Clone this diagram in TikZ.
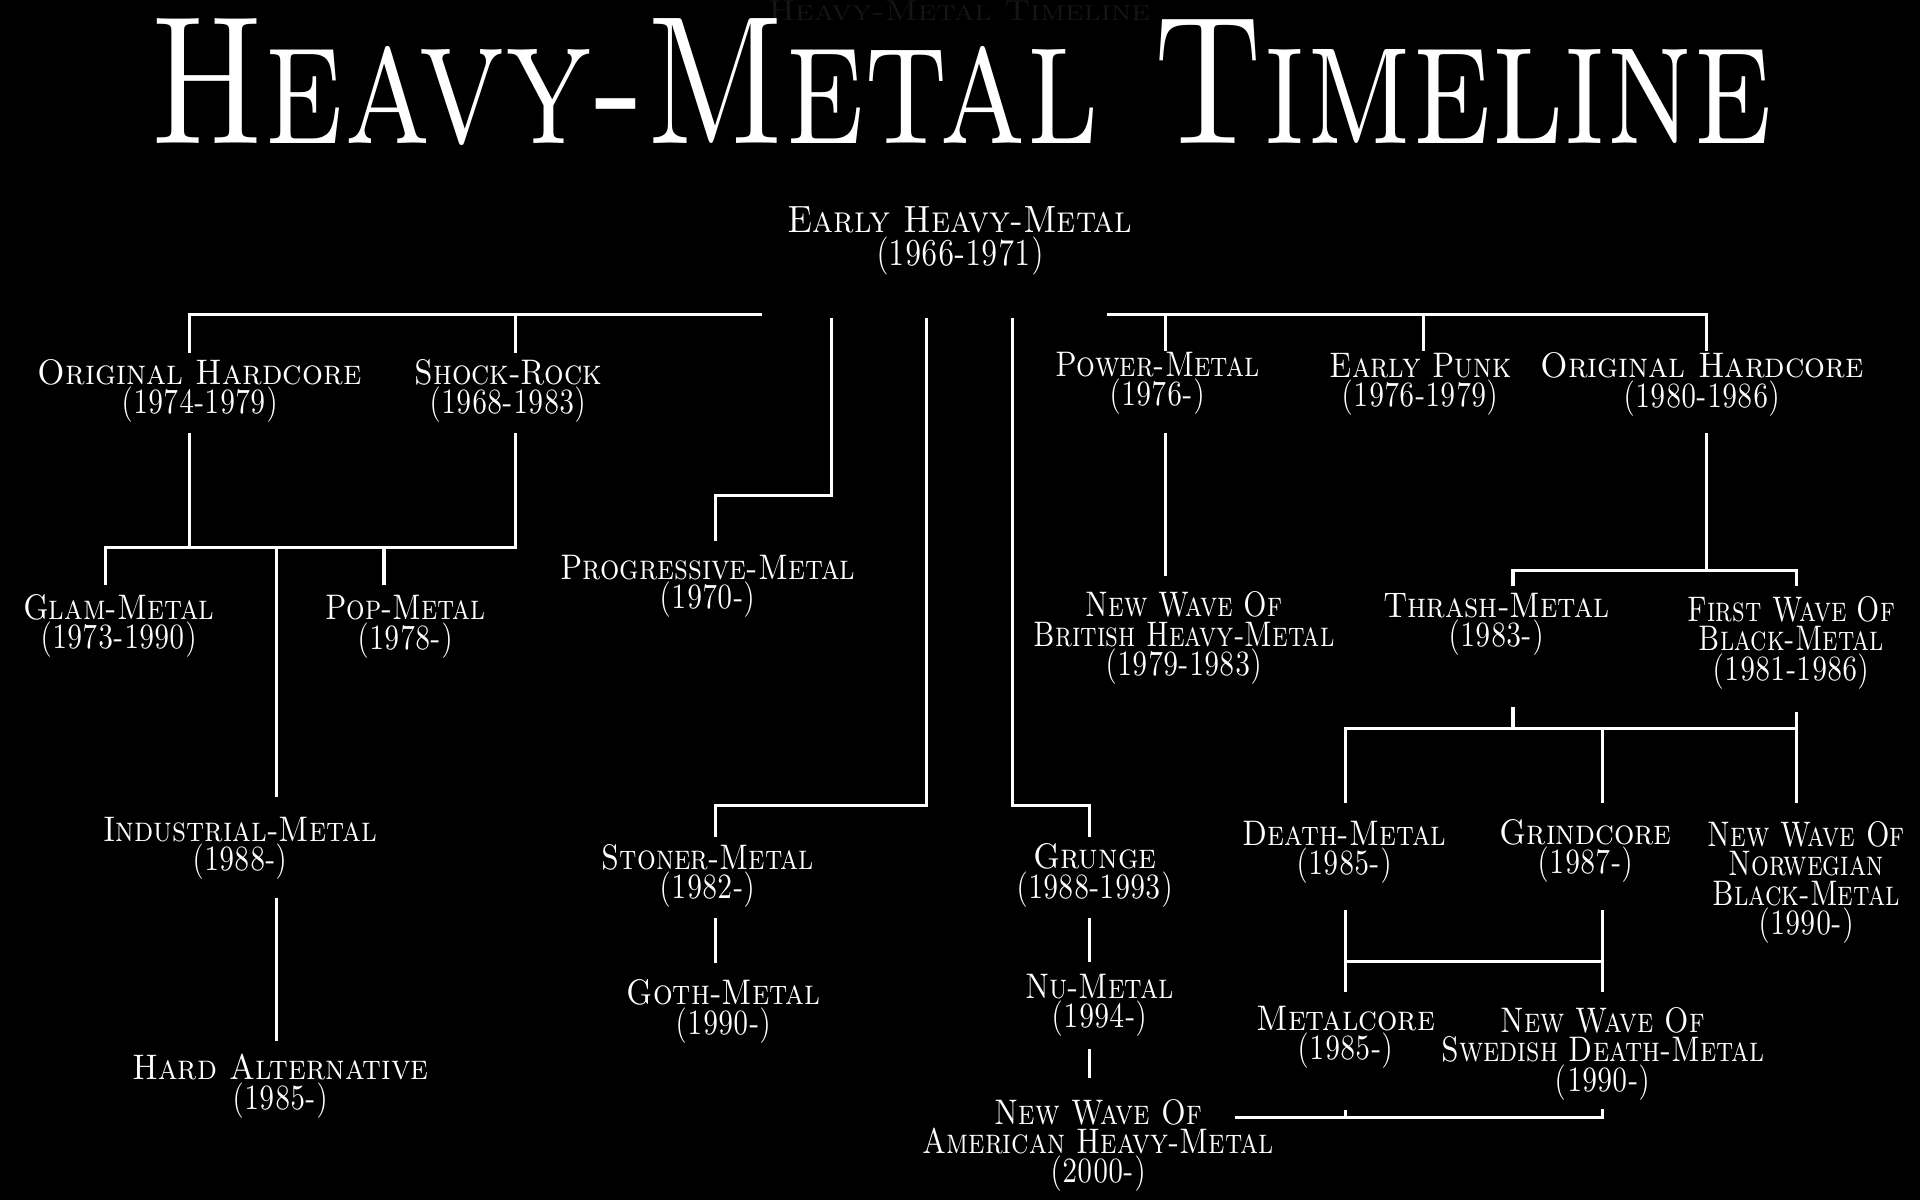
\documentclass[tikz,border=0pt]{standalone}
\usepackage{graphicx}
\definecolor{faint}{HTML}{151515}
\newcommand\nm[2][0.87]{\scalebox{#1}[1]{#2}}
\newcommand\yr[1]{\scalebox{0.78}[1]{#1}}
\tikzset{
  lbl/.style={align=center, text=white, inner sep=0pt,
    font=\fontsize{29}{24}\selectfont\scshape},
  biglbl/.style={lbl, font=\fontsize{31}{27}\selectfont\scshape},
  ln/.style={draw=white, line width=2.5pt, line join=miter}
}
\begin{document}
\begin{tikzpicture}[x=1pt,y=-1pt]
\fill[black] (0,0) rectangle (1568,980);
\useasboundingbox (0,0) rectangle (1568,980);

% titles
\node[anchor=base west, inner sep=0pt, text=faint] (ghost) at (627,17)
  {\resizebox{312pt}{16pt}{\scshape Heavy-Metal Timeline}};
\node[anchor=base west, inner sep=0pt, text=white] (title) at (122,117)
  {\resizebox{1325pt}{102pt}{\scshape Heavy-Metal Timeline}};

% labels
\node[biglbl] (ehm) at (784,197) {\nm[0.9]{Early Heavy-Metal}\\\yr{(1966-1971)}};
\node[lbl] (oh1) at (163,319) {\nm[0.925]{Original Hardcore}\\\yr{(1974-1979)}};
\node[lbl] (shock) at (415,319) {\nm[0.866]{Shock-Rock}\\\yr{(1968-1983)}};
\node[lbl] (glam) at (97,511) {\nm[0.856]{Glam-Metal}\\\yr{(1973-1990)}};
\node[lbl] (pop) at (331,512) {\nm[0.82]{Pop-Metal}\\\yr{(1978-)}};
\node[lbl] (prog) at (578,479) {\nm[0.854]{Progressive-Metal}\\\yr{(1970-)}};
\node[lbl] (ind) at (196,693) {\nm[0.865]{Industrial-Metal}\\\yr{(1988-)}};
\node[lbl] (hard) at (229,887) {\nm[0.9]{Hard Alternative}\\\yr{(1985-)}};
\node[lbl] (stoner) at (578,715.5) {\nm[0.83]{Stoner-Metal}\\\yr{(1982-)}};
\node[lbl] (goth) at (591,826) {\nm[0.87]{Goth-Metal}\\\yr{(1990-)}};
\node[lbl] (grunge) at (894,715) {\nm[0.9]{Grunge}\\\yr{(1988-1993)}};
\node[lbl] (nu) at (898,821) {\nm[0.84]{Nu-Metal}\\\yr{(1994-)}};
\node[lbl] (nwoahm) at (897,935.5) {\nm[0.83]{New Wave Of}\\\nm[0.83]{American Heavy-Metal}\\\yr{(2000-)}};
\node[lbl] (power) at (945,313) {\nm[0.83]{Power-Metal}\\\yr{(1976-)}};
\node[lbl] (punk) at (1160,314) {\nm[0.853]{Early Punk}\\\yr{(1976-1979)}};
\node[lbl] (oh2) at (1390,314) {\nm[0.925]{Original Hardcore}\\\yr{(1980-1986)}};
\node[lbl] (nwobhm) at (967,521) {\nm[0.79]{New Wave Of}\\\nm[0.79]{British Heavy-Metal}\\\yr{(1979-1983)}};
\node[lbl] (thrash) at (1222,510) {\nm[0.876]{Thrash-Metal}\\\yr{(1983-)}};
\node[lbl] (fwbm) at (1463,525) {\nm[0.78]{First Wave Of}\\\nm[0.78]{Black-Metal}\\\yr{(1981-1986)}};
\node[lbl] (death) at (1098,696) {\nm[0.853]{Death-Metal}\\\yr{(1985-)}};
\node[lbl] (grind) at (1295,695) {\nm[0.9]{Grindcore}\\\yr{(1987-)}};
\node[lbl] (nwonbm) at (1475,720.5) {\nm[0.79]{New Wave Of}\\\nm[0.79]{Norwegian}\\\nm[0.79]{Black-Metal}\\\yr{(1990-)}};
\node[lbl] (metalcore) at (1099,847) {\nm[0.9]{Metalcore}\\\yr{(1985-)}};
\node[lbl] (nwosdm) at (1309,860.5) {\nm[0.82]{New Wave Of}\\\nm[0.82]{Swedish Death-Metal}\\\yr{(1990-)}};

% junction coordinates
\coordinate (a1) at (155,288);   \coordinate (a2) at (155,257);
\coordinate (a3) at (622,257);   \coordinate (a4) at (421,257);
\coordinate (a5) at (421,288);
\coordinate (b1) at (155,354);   \coordinate (b2) at (155,447);
\coordinate (b3) at (421,354);   \coordinate (b4) at (421,447);
\coordinate (b5) at (86.5,447);  \coordinate (b6) at (86.5,478);
\coordinate (b7) at (313.6,447); \coordinate (b8) at (313.6,478);
\coordinate (b9) at (226,447);   \coordinate (b10) at (226,651);
\coordinate (b11) at (226,733);  \coordinate (b12) at (226,850);
\coordinate (p1) at (679,259.6); \coordinate (p2) at (679,405);
\coordinate (p3) at (584,405);   \coordinate (p4) at (584,441.6);
\coordinate (s1) at (756.7,259.6); \coordinate (s2) at (756.7,658);
\coordinate (s3) at (584,658);   \coordinate (s4) at (584,683.5);
\coordinate (s5) at (584,750);   \coordinate (s6) at (584,786.6);
\coordinate (g1) at (826.6,259.6); \coordinate (g2) at (826.6,658);
\coordinate (g3) at (890,658);   \coordinate (g4) at (890,683.5);
\coordinate (g5) at (890,750);   \coordinate (g6) at (890,785.7);
\coordinate (g7) at (890,856.8); \coordinate (g8) at (890,880);
\coordinate (r1) at (951.6,287); \coordinate (r2) at (951.6,257);
\coordinate (r3) at (904,257);   \coordinate (r4) at (1394,257);
\coordinate (r5) at (1394,287);  \coordinate (r6) at (1162.6,257);
\coordinate (r7) at (1162.6,287);
\coordinate (r8) at (951.6,354); \coordinate (r9) at (951.6,470);
\coordinate (t1) at (1394,354);  \coordinate (t2) at (1394,466);
\coordinate (t3) at (1235.6,478.6); \coordinate (t4) at (1235.6,466);
\coordinate (t5) at (1467,466);  \coordinate (t6) at (1467,478.6);
\coordinate (u1) at (1235.6,577.6); \coordinate (u2) at (1235.6,594.6);
\coordinate (u3) at (1098.5,655.6); \coordinate (u4) at (1098.5,594.6);
\coordinate (u5) at (1467,594.6); \coordinate (u6) at (1467,581.6);
\coordinate (u7) at (1467,655.6); \coordinate (u8) at (1309,594.6);
\coordinate (u9) at (1309,655.6);
\coordinate (v1) at (1098.5,743); \coordinate (v2) at (1098.5,810);
\coordinate (v3) at (1309,743);  \coordinate (v4) at (1309,810);
\coordinate (v5) at (1098.5,785); \coordinate (v6) at (1309,785);
\coordinate (w1) at (1008.6,912.8); \coordinate (w2) at (1309,912.8);
\coordinate (w3) at (1309,906);  \coordinate (w4) at (1098.5,912.8);
\coordinate (w5) at (1098.5,906.5);

% connectors
\draw[ln] (a1) -- (a2) -- (a3);
\draw[ln] (a4) -- (a5);
\draw[ln] (b1) -- (b2);
\draw[ln] (b3) -- (b4) -- (b5) -- (b6);
\draw[ln] (b7) -- (b8);
\draw[ln] (b9) -- (b10);
\draw[ln] (b11) -- (b12);
\draw[ln] (p1) -- (p2) -- (p3) -- (p4);
\draw[ln] (s1) -- (s2) -- (s3) -- (s4);
\draw[ln] (s5) -- (s6);
\draw[ln] (g1) -- (g2) -- (g3) -- (g4);
\draw[ln] (g5) -- (g6);
\draw[ln] (g7) -- (g8);
\draw[ln] (r1) -- (r2);
\draw[ln] (r3) -- (r4) -- (r5);
\draw[ln] (r6) -- (r7);
\draw[ln] (r8) -- (r9);
\draw[ln] (t1) -- (t2);
\draw[ln] (t3) -- (t4) -- (t5) -- (t6);
\draw[ln] (u1) -- (u2);
\draw[ln] (u3) -- (u4) -- (u5);
\draw[ln] (u6) -- (u7);
\draw[ln] (u8) -- (u9);
\draw[ln] (v1) -- (v2);
\draw[ln] (v3) -- (v4);
\draw[ln] (v5) -- (v6);
\draw[ln] (w1) -- (w2) -- (w3);
\draw[ln] (w4) -- (w5);
\end{tikzpicture}
\end{document}
